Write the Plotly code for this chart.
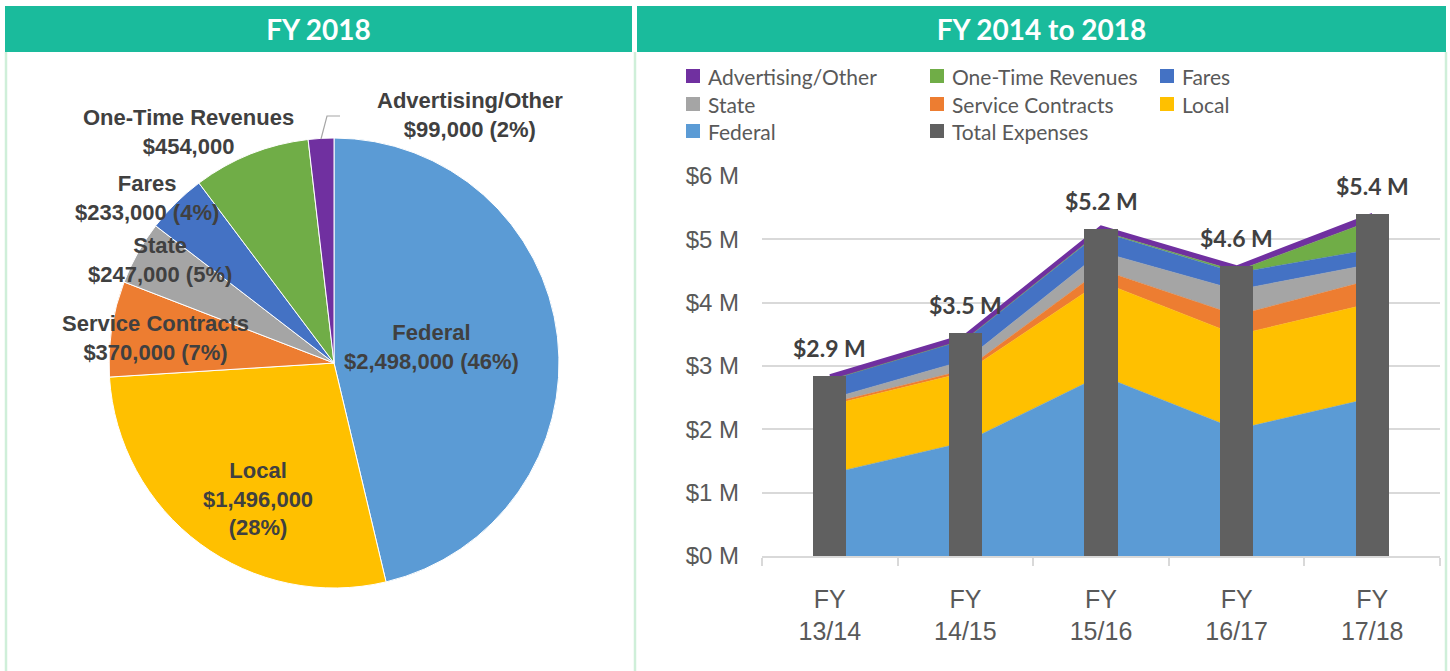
import plotly.graph_objects as go

W, H = 1450, 671

def px(x):
    return x / W

def py(y):
    return 1 - y / H

# ---------------- DATA ----------------
pie_labels = ["Federal", "Local", "Service Contracts", "State", "Fares",
              "One-Time Revenues", "Advertising/Other"]
pie_values = [2498000, 1496000, 370000, 247000, 233000, 454000, 99000]

years = ["FY<br>13/14", "FY<br>14/15", "FY<br>15/16", "FY<br>16/17", "FY<br>17/18"]
federal = [1.30, 1.80, 2.85, 2.00, 2.498]
local = [1.08, 1.10, 1.48, 1.49, 1.496]
service_contracts = [0.03, 0.04, 0.19, 0.31, 0.370]
state = [0.07, 0.15, 0.28, 0.40, 0.247]
fares = [0.30, 0.33, 0.32, 0.27, 0.233]
one_time = [0.00, 0.00, 0.01, 0.03, 0.454]
advertising = [0.07, 0.07, 0.07, 0.07, 0.099]
total_expenses = [2.85, 3.52, 5.17, 4.58, 5.40]
y_ticks = [0, 1, 2, 3, 4, 5, 6]
legend_order = ["Advertising/Other", "One-Time Revenues", "Fares", "State",
                "Service Contracts", "Local", "Federal", "Total Expenses"]
panel_titles = ["FY 2018", "FY 2014 to 2018"]

# ---------------- STYLE ----------------
colors = {
    "Federal": "#5B9BD5",
    "Local": "#FFC000",
    "Service Contracts": "#ED7D31",
    "State": "#A5A5A5",
    "Fares": "#4472C4",
    "One-Time Revenues": "#70AD47",
    "Advertising/Other": "#7030A0",
    "Total Expenses": "#606060",
}
HEADER = "#1ABB9C"
BORDER = "#CFEFD9"
LABEL_FONT = "Liberation Sans Narrow, Liberation Sans, Arial"
TXT = "#404040"

fig = go.Figure()

# ---------------- PIE ----------------
fig.add_trace(go.Pie(
    labels=pie_labels, values=pie_values,
    marker=dict(colors=[colors[l] for l in pie_labels], line=dict(color="white", width=1)),
    sort=False, direction="clockwise", rotation=0,
    textinfo="none", showlegend=False,
    domain=dict(x=[px(109), px(559)], y=[py(588), py(138)]),
))

total_pie = sum(pie_values)
def pie_text(i):
    lab = pie_labels[i]
    v = pie_values[i]
    pct = round(100 * v / total_pie)
    if lab == "One-Time Revenues":
        return f"{lab}<br>${v:,.0f}"
    if lab == "Local":
        return f"{lab}<br>${v:,.0f}<br>({pct}%)"
    return f"{lab}<br>${v:,.0f} ({pct}%)"

pie_label_pos = {
    "Federal": (432, 347),
    "Local": (258, 499),
    "Service Contracts": (155, 338),
    "State": (160, 260),
    "Fares": (147, 198),
    "One-Time Revenues": (189, 132),
    "Advertising/Other": (470, 115),
}
for i, lab in enumerate(pie_labels):
    x, y = pie_label_pos[lab]
    fig.add_annotation(
        text=pie_text(i), x=px(x), y=py(y), xref="paper", yref="paper",
        showarrow=False, xanchor="center", yanchor="middle",
        font=dict(family=LABEL_FONT, size=22, color=TXT, weight="bold"),
    )

# ---------------- STACKED AREA ----------------
area_series = [
    ("Federal", federal),
    ("Local", local),
    ("Service Contracts", service_contracts),
    ("State", state),
    ("Fares", fares),
    ("One-Time Revenues", one_time),
    ("Advertising/Other", advertising),
]
for name, vals in area_series:
    lw = 2.5 if name == "Advertising/Other" else 0.5
    fig.add_trace(go.Scatter(
        x=years, y=vals, name=name, stackgroup="rev", mode="lines",
        line=dict(color=colors[name], width=lw),
        fillcolor=colors[name], showlegend=False,
        xaxis="x", yaxis="y",
    ))

# bars on overlay axes so they draw above the areas
fig.add_trace(go.Bar(
    x=years, y=total_expenses, name="Total Expenses",
    marker=dict(color=colors["Total Expenses"], line=dict(width=0)),
    width=0.245, showlegend=False,
    xaxis="x2", yaxis="y2",
))

for x, v in zip(years, total_expenses):
    fig.add_annotation(
        text=f"${v:.1f} M", x=x, y=v, xref="x2", yref="y2",
        showarrow=False, yanchor="bottom", yshift=12,
        font=dict(family="Lato, Open Sans", size=23, color=TXT, weight="bold"),
    )

# ---------------- LEGEND (drawn as keys + text) ----------------
col_x = [686, 930, 1160]
row_y = [76, 104, 131]
shapes = []
for k, name in enumerate(legend_order):
    cx = col_x[k % 3]
    cy = row_y[k // 3]
    shapes.append(dict(type="rect", xref="paper", yref="paper",
                       x0=px(cx), x1=px(cx + 14), y0=py(cy + 7), y1=py(cy - 7),
                       fillcolor=colors[name], line=dict(width=0)))
    fig.add_annotation(text=name, x=px(cx + 20), y=py(cy), xref="paper", yref="paper",
                       showarrow=False, xanchor="left", yanchor="middle",
                       font=dict(family="Lato, Open Sans", size=21, color="#595959"))

# ---------------- PANELS ----------------
header_font = dict(family="Lato, Open Sans", size=28, color="white", weight="bold")
shapes += [
    dict(type="rect", xref="paper", yref="paper", x0=px(5), x1=px(632), y0=py(52), y1=py(6),
         fillcolor=HEADER, line=dict(width=0), layer="below",
         label=dict(text=panel_titles[0], font=header_font, textposition="middle center")),
    dict(type="rect", xref="paper", yref="paper", x0=px(637), x1=px(1446), y0=py(52), y1=py(6),
         fillcolor=HEADER, line=dict(width=0), layer="below",
         label=dict(text=panel_titles[1], font=header_font, textposition="middle center")),
    dict(type="line", xref="paper", yref="paper", x0=px(6), x1=px(6), y0=py(52), y1=0,
         line=dict(color=BORDER, width=2.5)),
    dict(type="line", xref="paper", yref="paper", x0=px(635), x1=px(635), y0=py(52), y1=0,
         line=dict(color=BORDER, width=2.5)),
    dict(type="line", xref="paper", yref="paper", x0=px(1446), x1=px(1446), y0=py(52), y1=0,
         line=dict(color=BORDER, width=2.5)),
    # leader line for Advertising/Other
    dict(type="path", xref="paper", yref="paper",
         path=f"M {px(321)},{py(139)} L {px(327)},{py(116)} L {px(340)},{py(116)}",
         line=dict(color="#A6A6A6", width=1.2)),
]

axis_font = dict(family="Liberation Sans, Arial", size=25, color="#595959")

fig.update_layout(
    width=W, height=H,
    margin=dict(l=0, r=0, t=0, b=0, autoexpand=False),
    paper_bgcolor="white", plot_bgcolor="white",
    shapes=shapes,
    showlegend=False,
    bargap=0,
    xaxis=dict(domain=[px(762), px(1440)], type="category", range=[-0.5, 4.5],
               showgrid=False, showline=True, linecolor="#D9D9D9", linewidth=1.5,
               ticks="outside", tickson="boundaries", ticklen=8, tickcolor="#D9D9D9",
               tickwidth=1.5, tickfont=axis_font, ticklabelstandoff=20, anchor="y",
               fixedrange=True),
    yaxis=dict(domain=[py(556), py(176)], range=[0, 6],
               tickvals=y_ticks, ticktext=[f"${t} M" for t in y_ticks],
               showgrid=True, gridcolor="#D9D9D9", gridwidth=1.5, zeroline=False,
               showline=False, tickfont=dict(family="Liberation Sans, Arial", size=24, color="#595959"),
               ticklabelstandoff=22, anchor="x", fixedrange=True),
    xaxis2=dict(overlaying="x", matches="x", visible=False, anchor="y2"),
    yaxis2=dict(overlaying="y", matches="y", visible=False, anchor="x2"),
)

fig.write_html(
    "out.html",
    config={"displayModeBar": False},
    post_script="document.body.style.margin='0';document.body.style.overflow='hidden';",
)
